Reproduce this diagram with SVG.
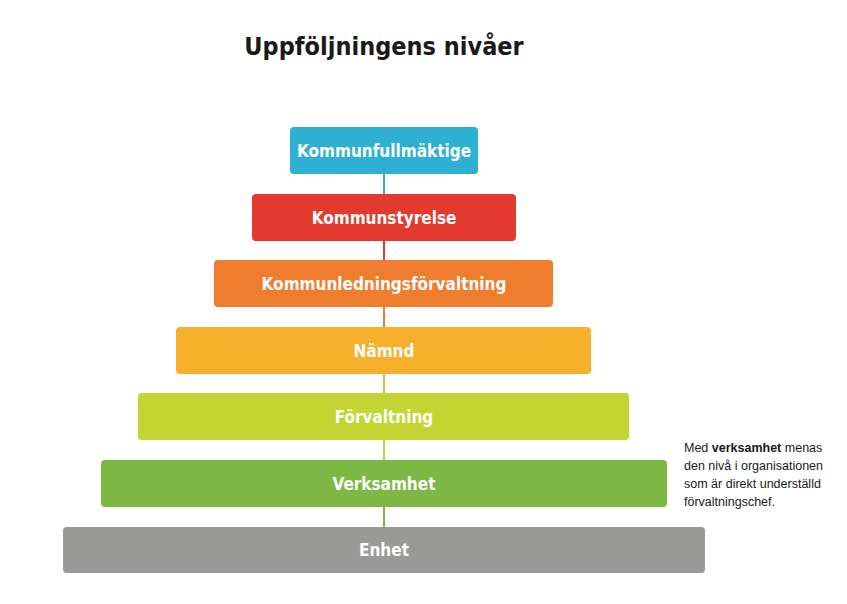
<svg xmlns="http://www.w3.org/2000/svg" width="847" height="604" viewBox="0 0 847 604">
<style>
.b{stroke:none}
.t{font-family:"DejaVu Sans","Liberation Sans",sans-serif;font-stretch:condensed;font-weight:bold;font-size:17px;fill:#fff;text-anchor:middle}
.n{font-family:"Liberation Sans",Arial,sans-serif;font-size:12.5px;fill:#1a1a1a}
line{stroke-width:2}
</style>
<rect width="847" height="604" fill="#fff"/>
<text x="384" y="55" style="font-family:'DejaVu Sans','Liberation Sans',sans-serif;font-stretch:condensed;font-weight:bold;font-size:25px;fill:#1a1a1a;text-anchor:middle">Uppföljningens nivåer</text>
<g id="connectors">
<line x1="384" y1="174" x2="384" y2="194" stroke="#2eb0d3"/>
<line x1="384" y1="241" x2="384" y2="260" stroke="#e23a2e"/>
<line x1="384" y1="307" x2="384" y2="327" stroke="#ef7d2f"/>
<line x1="384" y1="374" x2="384" y2="393" stroke="#f6b02b"/>
<line x1="384" y1="440" x2="384" y2="460" stroke="#c4d432"/>
<line x1="384" y1="507" x2="384" y2="527" stroke="#7cb843"/>
</g>
<g id="n1"><rect x="290" y="127" width="188" height="47" rx="4" fill="#2eb0d3"/><text class="t" x="384" y="157">Kommunfullmäktige</text></g>
<g id="n2"><rect x="252" y="194" width="264" height="47" rx="4" fill="#e23a2e"/><text class="t" x="384" y="224">Kommunstyrelse</text></g>
<g id="n3"><rect x="214" y="260" width="339" height="47" rx="4" fill="#ef7d2f"/><text class="t" x="384" y="290">Kommunledningsförvaltning</text></g>
<g id="n4"><rect x="176" y="327" width="415" height="47" rx="4" fill="#f6b02b"/><text class="t" x="384" y="357">Nämnd</text></g>
<g id="n5"><rect x="138" y="393" width="491" height="47" rx="4" fill="#c4d432"/><text class="t" x="384" y="423">Förvaltning</text></g>
<g id="n6"><rect x="101" y="460" width="566" height="47" rx="4" fill="#7cb843"/><text class="t" x="384" y="490">Verksamhet</text></g>
<g id="n7"><rect x="63" y="527" width="642" height="46" rx="4" fill="#999a98"/><text class="t" x="384" y="556">Enhet</text></g>
<g id="note">
<text class="n" x="684" y="452">Med <tspan font-weight="bold">verksamhet</tspan> menas</text>
<text class="n" x="684" y="470">den nivå i organisationen</text>
<text class="n" x="684" y="488">som är direkt underställd</text>
<text class="n" x="684" y="506">förvaltningschef.</text>
</g>
</svg>
